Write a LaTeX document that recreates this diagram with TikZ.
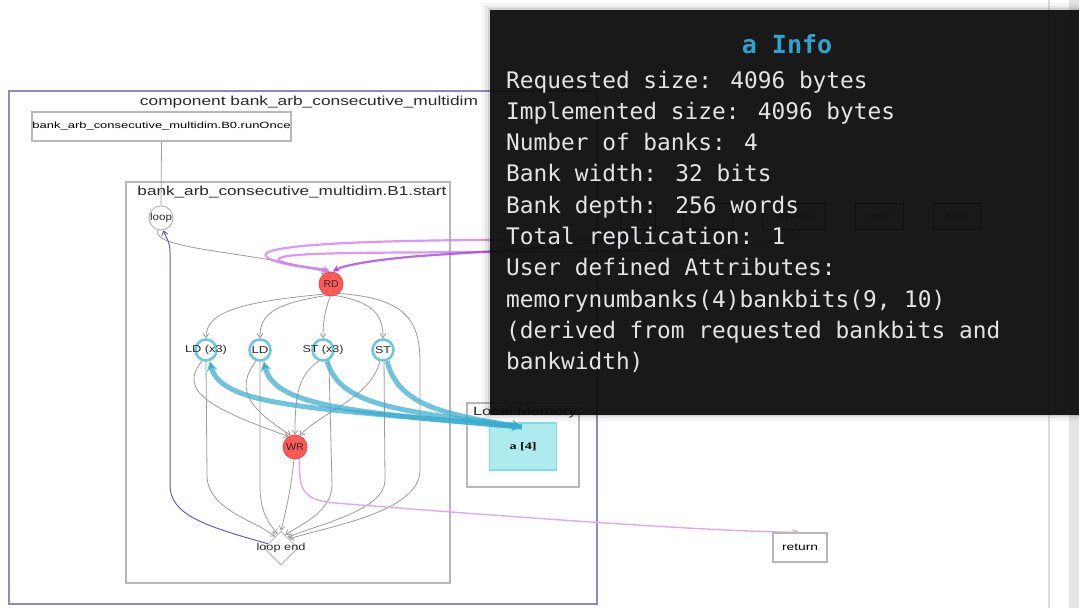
\documentclass[tikz,border=0pt]{standalone}
\usepackage{fontspec}
\setmainfont{Liberation Sans}
\newfontfamily\tipmono{DejaVu Sans Mono}
\newfontfamily\memserif{Liberation Serif}
\usepackage{graphicx}
\usetikzlibrary{arrows.meta,shapes.geometric}

\definecolor{compblue}{HTML}{8A8AC0}
\definecolor{boxgray}{HTML}{B8B8B8}
\definecolor{edgegray}{HTML}{9C9C9C}
\definecolor{rdred}{HTML}{FF5A5A}
\definecolor{rdborder}{HTML}{E84444}
\definecolor{lsblue}{HTML}{70C6DE}
\definecolor{memcyan}{HTML}{38ADCF}
\definecolor{memfill}{HTML}{AEEBEE}
\definecolor{memborder}{HTML}{86D8E2}
\definecolor{chanviolet}{HTML}{D57CF8}
\definecolor{chandark}{HTML}{A646E0}
\definecolor{retviolet}{HTML}{E2A6F8}
\definecolor{backblue}{HTML}{6060C4}
\definecolor{tipbg}{HTML}{0C0C0C}
\definecolor{tiptext}{HTML}{E4E4E4}
\definecolor{tiptitle}{HTML}{2EA3D0}
\definecolor{labelink}{HTML}{2A2A2A}

% squeeze or stretch a label horizontally to a given width (in pt)
\newcommand\fitlabel[2]{\resizebox{#1pt}{\height}{#2}}

\pgfdeclarelayer{bg}
\pgfdeclarelayer{fg}
\pgfsetlayers{bg,main,fg}

\tikzset{
  gbox/.style={draw=boxgray, line width=1.6pt},
  lbl/.style={inner sep=0pt, text=labelink},
  plainbox/.style={draw=boxgray, line width=1.2pt, fill=white, inner sep=0pt},
  redcirc/.style={circle, draw=rdborder, fill=rdred, line width=0.8pt, minimum size=24pt, inner sep=0pt},
  lscirc/.style={circle, draw=lsblue, fill=white, line width=2.6pt, minimum size=21pt, inner sep=0pt},
  loopcirc/.style={circle, draw=boxgray, fill=white, line width=1pt, minimum size=24pt, inner sep=0pt},
  gedge/.style={draw=edgegray, line width=0.8pt, -{Straight Barb[length=4pt,width=6pt]}},
  gline/.style={draw=edgegray, line width=0.8pt},
  memedge/.style={draw=memcyan, line width=5pt, draw opacity=0.72, -{Stealth[length=10pt,width=11pt]}},
  chanedge/.style={draw=chanviolet, line width=2.2pt, draw opacity=0.8, -{Stealth[length=7pt,width=7pt]}},
  backedge/.style={draw=backblue, line width=1pt, -{Straight Barb[length=4pt,width=6pt]}},
  hidbox/.style={draw=black!80, line width=0.8pt, inner sep=0pt, font=\fontsize{8}{8}\selectfont, text=black!80},
  tipline/.style={anchor=base west, inner sep=0pt, text=tiptext, font=\tipmono\fontsize{22.8}{28}\selectfont}
}

\begin{document}
\begin{tikzpicture}[x=1pt,y=-1pt]
\useasboundingbox (0,0) rectangle (1079,608);

% ---------- nodes ----------
\node[plainbox, minimum width=259pt, minimum height=29pt] (b0) at (161.5,126.5)
  {\fontsize{9}{9}\selectfont\fitlabel{258}{bank\_arb\_consecutive\_multidim.B0.runOnce}};
\node[loopcirc, label={[lbl]center:{\fontsize{10}{10}\selectfont\fitlabel{22}{loop}}}] (loop) at (161,218) {};
\node[redcirc, label={[lbl]center:{\fontsize{10}{10}\selectfont\fitlabel{15}{RD}}}] (rd) at (331,284) {};
\node[lscirc, label={[lbl]center:{\fontsize{10}{10}\selectfont\fitlabel{42}{LD (x3)}}}] (ld3) at (206,350) {};
\node[lscirc, label={[lbl]center:{\fontsize{10}{10}\selectfont\fitlabel{17}{LD}}}] (ld) at (260,350) {};
\node[lscirc, label={[lbl]center:{\fontsize{10}{10}\selectfont\fitlabel{41}{ST (x3)}}}] (st3) at (323,350) {};
\node[lscirc, label={[lbl]center:{\fontsize{10}{10}\selectfont\fitlabel{16}{ST}}}] (st) at (383,350) {};
\node[redcirc, label={[lbl]center:{\fontsize{10}{10}\selectfont\fitlabel{18}{WR}}}] (wr) at (295,447) {};
\node[diamond, draw=boxgray, fill=white, line width=1pt, minimum width=34pt, minimum height=34pt, inner sep=0pt,
      label={[lbl]center:{\fontsize{10}{10}\selectfont\fitlabel{49}{loop end}}}] (ldend) at (281,548) {};
\node[draw=memborder, fill=memfill, line width=1.2pt, minimum width=67pt, minimum height=47pt, inner sep=0pt] (a4) at (523,446.5)
  {\memserif\bfseries\fontsize{10}{10}\selectfont\fitlabel{27}{a [4]}};
\node[plainbox, minimum width=54pt, minimum height=29pt] (ret) at (800,547.5)
  {\fontsize{10}{10}\selectfont\fitlabel{36}{return}};

% inputs lying under the info panel
\node[hidbox, minimum width=35pt, minimum height=26pt] (do) at (637.5,216) {do};
\node[hidbox, minimum width=49pt, minimum height=26pt] (raddr) at (707.5,216) {raddr};
\node[hidbox, minimum width=63pt, minimum height=26pt] (upperdim) at (793.5,216) {upperdim};
\node[hidbox, minimum width=48pt, minimum height=26pt] (waddr) at (879,216) {waddr};
\node[hidbox, minimum width=47pt, minimum height=26pt] (wdata) at (956.5,216) {wdata};

% ---------- memory edges (drawn over the nodes) ----------
\coordinate (a4in) at (522,427);
\draw[memedge] (a4in) .. controls (320,408) and (222,408) .. (ld3.-72);
\draw[memedge] (a4in) .. controls (340,412) and (274,404) .. (ld.-72);
\draw[memedge] (st3.-70) .. controls (340,404) and (390,410) .. (a4in);
\draw[memedge] (st.-70) .. controls (398,404) and (440,414) .. (a4in);

\begin{pgfonlayer}{bg}
\fill[white] (0,0) rectangle (1079,608);
% ---------- right-hand page edge ----------
\fill[black!10] (1069,0) rectangle (1079,608);
\draw[black!13, line width=2pt] (1049,0) -- (1049,608);

% ---------- clusters ----------
\draw[compblue, line width=1.8pt] (9,91) rectangle (597,604);
\node[lbl] (comptitle) at (309,102) {\fontsize{13}{13}\selectfont\fitlabel{338}{component bank\_arb\_consecutive\_multidim}};
\draw[gbox] (126,182) rectangle (450,583);
\node[lbl] (b1title) at (292,192) {\fontsize{13}{13}\selectfont\fitlabel{309}{bank\_arb\_consecutive\_multidim.B1.start}};
\draw[gbox] (467,403) rectangle (579,487);
\node[lbl] (memtitle) at (525,412) {\fontsize{12}{12}\selectfont\fitlabel{104}{Local Memory}};

% ---------- control edges ----------
\draw[gline] (b0.south) -- (loop.north);
\draw[gedge] (loop.255) .. controls (150,250) and (260,252) .. (rd.112);

\draw[gedge] (rd.235) .. controls (240,302) and (206,312) .. (ld3.north);
\draw[gedge] (rd.248) .. controls (272,304) and (260,315) .. (ld.north);
\draw[gedge] (rd.266) .. controls (326,308) and (323,318) .. (st3.north);
\draw[gedge] (rd.292) .. controls (372,302) and (383,314) .. (st.north);
\draw[gedge] (rd.310) .. controls (405,298) and (420,320) .. (420,362) -- (420,470)
  .. controls (420,512) and (330,526) .. (ldend.48);

\draw[gedge] (ld3.250) .. controls (176,392) and (215,410) .. (wr.122);
\draw[gedge] (ld.250) .. controls (232,392) and (255,412) .. (wr.110);
\draw[gedge] (st3.250) .. controls (298,375) and (295,396) .. (wr.north);
\draw[gedge] (st.255) .. controls (370,398) and (325,410) .. (wr.68);

\draw[gedge] (ld3.south) -- (207,475) .. controls (207,510) and (255,520) .. (ldend.118);
\draw[gedge] (ld.south) -- (260,485) .. controls (260,512) and (268,522) .. (ldend.104);
\draw[gedge] (st3.-60) -- (332,485) .. controls (332,512) and (300,525) .. (ldend.72);
\draw[gedge] (st.-85) -- (385,480) .. controls (385,510) and (320,524) .. (ldend.58);
\draw[gedge] (wr.265) .. controls (291,490) and (286,510) .. (ldend.north);

\draw[backedge] (ldend.162) .. controls (205,526) and (170,515) .. (170,485) -- (170,252)
  .. controls (170,241) and (165,236) .. (loop.-78);

% ---------- channel edges ----------
\draw[chanedge] (raddr.south) .. controls (705,240) and (620,240) .. (480,240)
  .. controls (330,241) and (250,247) .. (268,258) .. controls (282,266) and (318,268) .. (rd.100);
\draw[chanedge] (upperdim.south) .. controls (790,252) and (650,252) .. (480,252)
  .. controls (360,253) and (266,252) .. (280,261) .. controls (292,267) and (320,268) .. (rd.94);
\draw[chanedge, draw=chandark] (do.south) .. controls (630,246) and (500,250) .. (420,256)
  .. controls (370,260) and (342,266) .. (rd.82);
\draw[draw=retviolet, line width=1.4pt, -{Stealth[length=8pt,width=7pt]}]
  (wr.290) .. controls (300,485) and (298,500) .. (335,503)
  .. controls (500,516) and (700,531) .. (ret.north);
\end{pgfonlayer}

% ---------- info panel ----------
\begin{pgfonlayer}{fg}
\fill[black, fill opacity=0.04] (482,3) rectangle (1079,421);
\fill[black, fill opacity=0.06] (485,6) rectangle (1079,418);
\fill[black, fill opacity=0.09] (488,8) rectangle (1079,416);
\fill[tipbg, fill opacity=0.93] (490,10) rectangle (1079,415);
\node[anchor=base, inner sep=0pt, text=tiptitle, font=\tipmono\bfseries\fontsize{25}{25}\selectfont] (tiptitle) at (787,53) {a Info};
\foreach \txt [count=\i] in {{Requested size: 4096 bytes},{Implemented size: 4096 bytes},{Number of banks: 4},
  {Bank width: 32 bits},{Bank depth: 256 words},{Total replication: 1},{User defined Attributes:},
  {memorynumbanks(4)bankbits(9, 10)},{(derived from requested bankbits and},{bankwidth)}}
  \node[tipline] (tip\i) at (506,{88+31.3*(\i-1)}) {\txt};
\end{pgfonlayer}
\end{tikzpicture}
\end{document}
